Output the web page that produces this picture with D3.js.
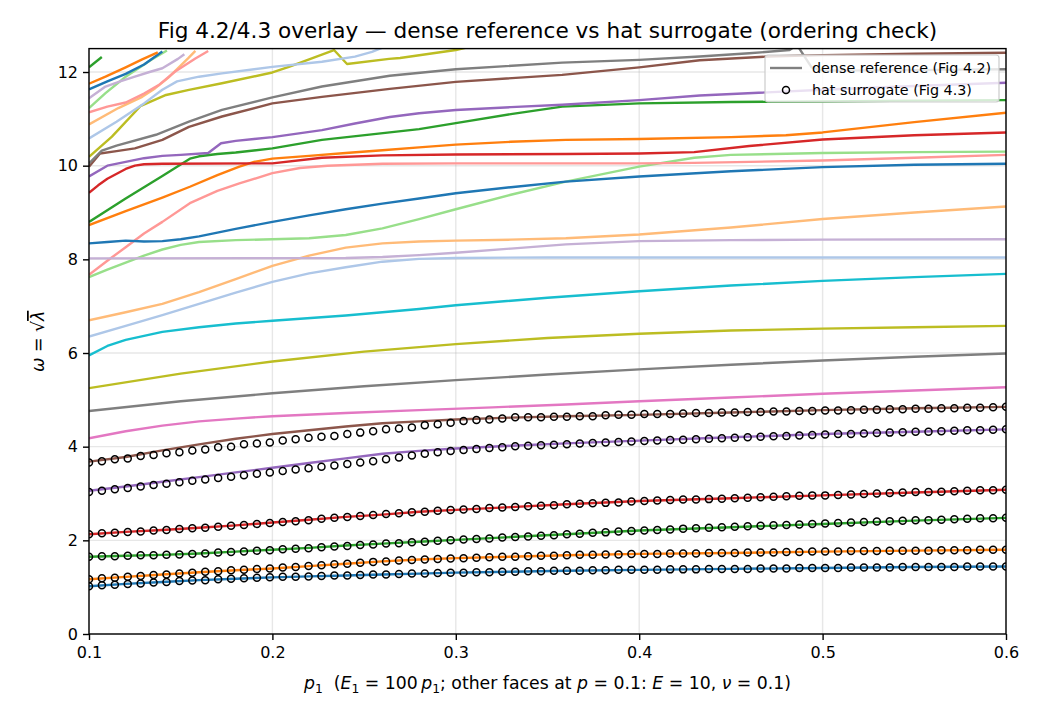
<!DOCTYPE html>
<html>
<head>
<meta charset="utf-8">
<script src="https://cdn.jsdelivr.net/npm/d3@7"></script>
<style>
  body { margin: 0; background: #fff; }
  text { font-family: "DejaVu Sans", sans-serif; fill: #000; }
</style>
</head>
<body>
<div id="chart"></div>
<script>
'use strict';

// ---- data ---------------------------------------------------------------

const xTicks = [0.1, 0.2, 0.3, 0.4, 0.5, 0.6];
const yTicks = [0, 2, 4, 6, 8, 10, 12];

// dense reference curves, [p1, omega] pairs, one array per mode
const mode01 = [[0.1,1.02],[0.12,1.07],[0.14,1.11],[0.16,1.15],[0.18,1.18],[0.2,1.21],[0.22,1.23],[0.24,1.25],[0.26,1.27],[0.28,1.29],[0.3,1.31],[0.33,1.33],[0.36,1.35],[0.4,1.37],[0.45,1.39],[0.5,1.41],[0.55,1.43],[0.6,1.44]];
const mode02 = [[0.1,1.17],[0.12,1.22],[0.14,1.27],[0.16,1.32],[0.18,1.36],[0.2,1.40],[0.22,1.45],[0.24,1.50],[0.26,1.55],[0.28,1.59],[0.3,1.62],[0.33,1.65],[0.36,1.68],[0.4,1.71],[0.45,1.73],[0.5,1.76],[0.55,1.78],[0.6,1.80]];
const mode03 = [[0.1,1.65],[0.12,1.67],[0.14,1.69],[0.16,1.72],[0.18,1.76],[0.2,1.80],[0.22,1.84],[0.24,1.89],[0.26,1.93],[0.28,1.97],[0.3,2.01],[0.33,2.07],[0.36,2.13],[0.4,2.21],[0.45,2.28],[0.5,2.35],[0.55,2.42],[0.6,2.48]];
const mode04 = [[0.1,2.13],[0.12,2.18],[0.14,2.22],[0.16,2.27],[0.18,2.32],[0.2,2.38],[0.22,2.44],[0.24,2.50],[0.26,2.55],[0.28,2.61],[0.3,2.65],[0.33,2.71],[0.36,2.77],[0.4,2.84],[0.45,2.90],[0.5,2.96],[0.55,3.02],[0.6,3.08]];
const mode05 = [[0.1,3.06],[0.12,3.15],[0.14,3.25],[0.16,3.35],[0.18,3.45],[0.2,3.55],[0.22,3.65],[0.24,3.75],[0.26,3.85],[0.28,3.91],[0.3,3.96],[0.33,4.02],[0.36,4.07],[0.4,4.13],[0.45,4.20],[0.5,4.27],[0.55,4.32],[0.6,4.37]];
const mode06 = [[0.1,3.68],[0.12,3.78],[0.14,3.92],[0.16,4.05],[0.18,4.17],[0.2,4.27],[0.22,4.35],[0.24,4.43],[0.26,4.50],[0.28,4.54],[0.3,4.58],[0.33,4.62],[0.36,4.65],[0.4,4.68],[0.45,4.73],[0.5,4.78],[0.55,4.82],[0.6,4.85]];
const mode07 = [[0.1,4.18],[0.12,4.33],[0.14,4.45],[0.16,4.54],[0.18,4.60],[0.2,4.65],[0.24,4.72],[0.28,4.78],[0.32,4.84],[0.36,4.90],[0.4,4.97],[0.45,5.05],[0.5,5.13],[0.55,5.20],[0.6,5.27]];
const mode08 = [[0.1,4.76],[0.15,4.97],[0.2,5.14],[0.25,5.29],[0.3,5.42],[0.35,5.54],[0.4,5.65],[0.45,5.75],[0.5,5.84],[0.55,5.92],[0.6,5.99]];
const mode09 = [[0.1,5.25],[0.15,5.56],[0.2,5.82],[0.25,6.03],[0.3,6.19],[0.35,6.32],[0.4,6.41],[0.45,6.48],[0.5,6.52],[0.55,6.55],[0.6,6.58]];
const mode10 = [[0.1,5.95],[0.11,6.15],[0.12,6.28],[0.14,6.45],[0.16,6.55],[0.18,6.63],[0.2,6.69],[0.24,6.80],[0.28,6.94],[0.3,7.02],[0.35,7.18],[0.4,7.32],[0.45,7.44],[0.5,7.54],[0.55,7.62],[0.6,7.69]];
const mode11 = [[0.1,6.35],[0.12,6.58],[0.14,6.81],[0.16,7.05],[0.18,7.29],[0.2,7.52],[0.22,7.70],[0.24,7.83],[0.26,7.95],[0.28,8.01],[0.3,8.03],[0.35,8.04],[0.6,8.04]];
const mode12 = [[0.1,6.70],[0.12,6.87],[0.14,7.05],[0.16,7.30],[0.18,7.58],[0.2,7.86],[0.22,8.08],[0.24,8.25],[0.26,8.34],[0.28,8.38],[0.3,8.40],[0.33,8.42],[0.36,8.45],[0.4,8.53],[0.45,8.68],[0.5,8.86],[0.55,9.00],[0.6,9.13]];
const mode13 = [[0.1,7.62],[0.11,7.78],[0.12,7.93],[0.13,8.08],[0.14,8.21],[0.15,8.31],[0.16,8.37],[0.18,8.41],[0.2,8.43],[0.22,8.45],[0.24,8.52],[0.26,8.66],[0.28,8.86],[0.3,9.07],[0.33,9.38],[0.36,9.66],[0.4,9.98],[0.43,10.17],[0.45,10.23],[0.5,10.27],[0.55,10.29],[0.6,10.30]];
const mode14 = [[0.1,7.67],[0.11,7.97],[0.12,8.26],[0.13,8.55],[0.14,8.80],[0.155,9.20],[0.17,9.46],[0.182,9.62],[0.2,9.84],[0.215,9.95],[0.23,10.00],[0.26,10.04],[0.3,10.05],[0.4,10.05],[0.43,10.06],[0.5,10.11],[0.55,10.17],[0.6,10.23]];
const mode15 = [[0.1,8.02],[0.24,8.03],[0.26,8.05],[0.28,8.09],[0.3,8.14],[0.33,8.23],[0.36,8.32],[0.4,8.39],[0.45,8.41],[0.5,8.42],[0.6,8.43]];
const mode16 = [[0.1,8.34],[0.11,8.37],[0.12,8.40],[0.13,8.38],[0.14,8.39],[0.15,8.43],[0.16,8.49],[0.17,8.57],[0.18,8.65],[0.2,8.80],[0.22,8.94],[0.24,9.07],[0.26,9.19],[0.28,9.30],[0.3,9.41],[0.33,9.54],[0.36,9.66],[0.4,9.77],[0.45,9.88],[0.5,9.97],[0.55,10.02],[0.6,10.04]];
const mode17 = [[0.1,8.73],[0.12,9.03],[0.14,9.32],[0.155,9.55],[0.17,9.80],[0.182,9.98],[0.19,10.08],[0.2,10.15],[0.22,10.21],[0.24,10.27],[0.26,10.33],[0.28,10.39],[0.3,10.45],[0.33,10.51],[0.36,10.55],[0.4,10.57],[0.45,10.61],[0.48,10.65],[0.5,10.71],[0.55,10.93],[0.6,11.13]];
const mode18 = [[0.1,8.80],[0.12,9.30],[0.14,9.78],[0.155,10.15],[0.16,10.20],[0.17,10.25],[0.18,10.28],[0.2,10.37],[0.227,10.55],[0.264,10.71],[0.28,10.78],[0.3,10.91],[0.33,11.10],[0.358,11.26],[0.4,11.33],[0.45,11.36],[0.5,11.37],[0.55,11.39],[0.6,11.40]];
const mode19 = [[0.1,9.42],[0.105,9.58],[0.11,9.72],[0.12,9.93],[0.125,10.00],[0.13,10.03],[0.14,10.04],[0.2,10.05],[0.227,10.17],[0.26,10.22],[0.3,10.24],[0.36,10.25],[0.4,10.26],[0.43,10.29],[0.46,10.42],[0.5,10.56],[0.55,10.65],[0.6,10.71]];
const mode20 = [[0.1,9.77],[0.11,10.00],[0.12,10.08],[0.13,10.16],[0.14,10.21],[0.15,10.23],[0.165,10.27],[0.172,10.48],[0.18,10.53],[0.19,10.57],[0.2,10.61],[0.227,10.76],[0.245,10.90],[0.264,11.04],[0.28,11.12],[0.3,11.19],[0.33,11.25],[0.358,11.30],[0.4,11.40],[0.433,11.50],[0.5,11.62],[0.55,11.70],[0.6,11.77]];
const mode21 = [[0.1,9.98],[0.106,10.26],[0.115,10.31],[0.125,10.37],[0.14,10.55],[0.1545,10.83],[0.1725,11.05],[0.2,11.33],[0.227,11.47],[0.264,11.64],[0.3,11.79],[0.358,11.94],[0.4,12.10],[0.433,12.25],[0.47,12.33],[0.5,12.36],[0.55,12.39],[0.6,12.41]];
const mode23 = [[0.1,10.05],[0.107,10.32],[0.115,10.43],[0.1365,10.66],[0.1545,10.94],[0.1725,11.19],[0.2,11.46],[0.227,11.69],[0.264,11.92],[0.3,12.06],[0.358,12.20],[0.4,12.26],[0.433,12.33],[0.46,12.40],[0.482,12.47],[0.486,12.58],[0.494,12.10],[0.5,12.03],[0.55,12.04],[0.6,12.06]];
const mode24 = [[0.1,10.19],[0.1125,10.62],[0.128,11.27],[0.142,11.51],[0.1545,11.62],[0.1725,11.76],[0.2,11.99],[0.209,12.11],[0.2336,12.47],[0.2407,12.17],[0.2636,12.28],[0.2696,12.30],[0.3,12.47],[0.31,12.56]];
const mode26 = [[0.1,10.58],[0.115,10.94],[0.13,11.33],[0.14,11.62],[0.148,11.80],[0.16,11.90],[0.1725,11.97],[0.2,12.11],[0.227,12.22],[0.245,12.33],[0.2543,12.43],[0.26,12.52]];
const mode27 = [[0.1,10.88],[0.116,11.23],[0.129,11.47],[0.136,11.65],[0.143,11.87],[0.154,12.29],[0.158,12.45]];
const mode28 = [[0.1,11.23],[0.109,11.55],[0.12,11.90],[0.134,12.26],[0.1425,12.46]];
const mode29 = [[0.1,11.14],[0.11,11.26],[0.12,11.35],[0.13,11.54],[0.138,11.72],[0.147,12.01],[0.158,12.29],[0.165,12.45]];
const mode30 = [[0.1,11.44],[0.109,11.69],[0.117,11.80],[0.125,11.90],[0.133,12.00],[0.14,12.08],[0.1485,12.28],[0.152,12.38]];
const mode31 = [[0.1,11.63],[0.11,11.80],[0.12,11.96],[0.13,12.16],[0.135,12.30],[0.14,12.44]];
const mode32 = [[0.1,11.75],[0.109,11.90],[0.12,12.10],[0.129,12.27],[0.1375,12.42]];
const mode33 = [[0.1,12.10],[0.107,12.32]];

// mode number of each dense curve (it picks the colour in the cycle)
const denseModeNumbers = [1,2,3,4,5,6,7,8,9,10,11,12,13,14,15,16,17,18,19,20,21,23,24,26,27,28,29,30,31,32,33];
const denseCurves = [mode01,mode02,mode03,mode04,mode05,mode06,mode07,mode08,mode09,mode10,
                     mode11,mode12,mode13,mode14,mode15,mode16,mode17,mode18,mode19,mode20,
                     mode21,mode23,mode24,mode26,mode27,mode28,mode29,mode30,mode31,mode32,mode33];

// hat surrogate: 72 evenly spaced p1 samples between 0.1 and 0.6
const hatP = d3.range(72).map(i => 0.1 + i * 0.5 / 71);
const hat1 = [1.02,1.04,1.05,1.07,1.08,1.10,1.11,1.13,1.14,1.15,1.17,1.18,1.19,1.20,1.21,1.22,1.22,1.23,1.24,1.25,1.25,1.26,1.27,1.27,1.28,1.29,1.29,1.30,1.31,1.31,1.32,1.32,1.33,1.33,1.34,1.34,1.35,1.35,1.35,1.36,1.36,1.37,1.37,1.37,1.37,1.38,1.38,1.38,1.39,1.39,1.39,1.39,1.40,1.40,1.40,1.41,1.41,1.41,1.41,1.42,1.42,1.42,1.42,1.43,1.43,1.43,1.43,1.43,1.44,1.44,1.44,1.44];
const hat2 = [1.17,1.19,1.20,1.22,1.24,1.26,1.27,1.29,1.31,1.33,1.34,1.36,1.37,1.39,1.40,1.42,1.43,1.45,1.47,1.49,1.50,1.52,1.54,1.55,1.57,1.58,1.59,1.60,1.61,1.62,1.63,1.64,1.65,1.65,1.66,1.67,1.67,1.68,1.69,1.69,1.70,1.70,1.71,1.71,1.71,1.72,1.72,1.72,1.73,1.73,1.73,1.74,1.74,1.74,1.75,1.75,1.76,1.76,1.76,1.77,1.77,1.77,1.78,1.78,1.78,1.78,1.79,1.79,1.79,1.80,1.80,1.80];
const hat3 = [1.65,1.66,1.66,1.67,1.68,1.68,1.69,1.70,1.71,1.72,1.74,1.75,1.76,1.78,1.79,1.81,1.82,1.83,1.85,1.87,1.88,1.90,1.91,1.93,1.94,1.96,1.97,1.99,2.00,2.02,2.03,2.04,2.06,2.07,2.08,2.10,2.11,2.13,2.14,2.16,2.17,2.19,2.20,2.21,2.22,2.23,2.25,2.26,2.27,2.28,2.29,2.30,2.31,2.32,2.33,2.34,2.35,2.36,2.37,2.38,2.39,2.40,2.41,2.42,2.43,2.43,2.44,2.45,2.46,2.47,2.47,2.48];
const hat4 = [2.13,2.15,2.16,2.18,2.19,2.21,2.22,2.24,2.26,2.27,2.29,2.31,2.33,2.35,2.37,2.39,2.41,2.43,2.46,2.48,2.50,2.52,2.54,2.56,2.58,2.60,2.61,2.63,2.65,2.66,2.67,2.69,2.70,2.71,2.73,2.74,2.75,2.77,2.78,2.79,2.80,2.81,2.83,2.84,2.85,2.86,2.87,2.87,2.88,2.89,2.90,2.91,2.92,2.93,2.94,2.95,2.96,2.96,2.97,2.98,2.99,3.00,3.01,3.02,3.03,3.03,3.04,3.05,3.06,3.07,3.07,3.08];
const hat5 = [3.03,3.06,3.09,3.12,3.15,3.18,3.21,3.24,3.27,3.30,3.33,3.36,3.39,3.42,3.45,3.48,3.51,3.54,3.57,3.60,3.63,3.66,3.69,3.73,3.77,3.81,3.85,3.88,3.91,3.93,3.95,3.97,3.99,4.01,4.02,4.03,4.04,4.05,4.07,4.08,4.09,4.10,4.11,4.12,4.13,4.14,4.15,4.16,4.17,4.18,4.19,4.20,4.21,4.22,4.23,4.24,4.25,4.26,4.27,4.27,4.28,4.29,4.30,4.31,4.32,4.32,4.33,4.34,4.35,4.35,4.36,4.37];
const hat6 = [3.66,3.69,3.73,3.75,3.80,3.82,3.86,3.88,3.92,3.94,3.99,4.00,4.05,4.07,4.09,4.13,4.16,4.19,4.21,4.23,4.27,4.30,4.33,4.37,4.39,4.41,4.46,4.48,4.51,4.55,4.57,4.58,4.60,4.63,4.63,4.63,4.64,4.64,4.65,4.65,4.67,4.68,4.68,4.70,4.70,4.70,4.71,4.72,4.72,4.73,4.73,4.74,4.74,4.75,4.75,4.76,4.76,4.77,4.77,4.78,4.79,4.79,4.80,4.80,4.81,4.81,4.82,4.82,4.83,4.83,4.84,4.85];
const hatSeries = [hat1, hat2, hat3, hat4, hat5, hat6];

const legendLabels = ['dense reference (Fig 4.2)', 'hat surrogate (Fig 4.3)'];

// ---- styles ---------------------------------------------------------------

// 15-colour cycle: tab10 followed by the five light tab20 tints
const palette = ['#1f77b4','#ff7f0e','#2ca02c','#d62728','#9467bd','#8c564b','#e377c2','#7f7f7f','#bcbd22','#17becf',
                 '#aec7e8','#ffbb78','#98df8a','#ff9896','#c5b0d5'];

const width = 1040, height = 715;
const plot = { left: 89, right: 1006, top: 48.6, bottom: 634 };

const svg = d3.select('#chart').append('svg')
    .attr('width', width)
    .attr('height', height);

const x = d3.scaleLinear().domain([0.1, 0.6]).range([plot.left, plot.right]);
const y = d3.scaleLinear().domain([0, 12.5]).range([plot.bottom, plot.top]);

svg.append('clipPath').attr('id', 'plot-clip')
    .append('rect')
    .attr('x', plot.left).attr('y', plot.top)
    .attr('width', plot.right - plot.left).attr('height', plot.bottom - plot.top);

// grid
const grid = svg.append('g').attr('class', 'grid');
grid.selectAll('.gx').data(xTicks).enter().append('line')
    .attr('x1', d => x(d)).attr('x2', d => x(d))
    .attr('y1', plot.top).attr('y2', plot.bottom)
    .attr('stroke', '#b0b0b0').attr('stroke-opacity', 0.3).attr('stroke-width', 1.4);
grid.selectAll('.gy').data(yTicks).enter().append('line')
    .attr('x1', plot.left).attr('x2', plot.right)
    .attr('y1', d => y(d)).attr('y2', d => y(d))
    .attr('stroke', '#b0b0b0').attr('stroke-opacity', 0.3).attr('stroke-width', 1.4);

// dense reference curves
const line = d3.line().x(d => x(d[0])).y(d => y(d[1]));
const curves = svg.append('g').attr('clip-path', 'url(#plot-clip)');
curves.selectAll('path.dense')
    .data(denseCurves)
    .enter().append('path')
    .attr('class', 'dense')
    .attr('d', line)
    .attr('fill', 'none')
    .attr('stroke', (d, i) => palette[(denseModeNumbers[i] - 1) % palette.length])
    .attr('stroke-width', 2.4)
    .attr('stroke-linejoin', 'round')
    .attr('stroke-linecap', 'butt');

// hat surrogate markers
const markers = svg.append('g').attr('clip-path', 'url(#plot-clip)');
hatSeries.forEach(function (vals) {
    markers.selectAll(null)
        .data(vals.map((v, i) => [hatP[i], v]))
        .enter().append('circle')
        .attr('cx', d => x(d[0]))
        .attr('cy', d => y(d[1]))
        .attr('r', 3.5)
        .attr('fill', 'none')
        .attr('stroke', '#000')
        .attr('stroke-width', 1.5);
});

// axes
const xAxis = d3.axisBottom(x).tickValues(xTicks).tickFormat(d3.format('.1f'))
    .tickSize(6).tickSizeOuter(0).tickPadding(7);
const yAxis = d3.axisLeft(y).tickValues(yTicks).tickFormat(d3.format('d'))
    .tickSize(6).tickSizeOuter(0).tickPadding(5);

const gx = svg.append('g').attr('transform', 'translate(0,' + plot.bottom + ')').call(xAxis);
const gy = svg.append('g').attr('transform', 'translate(' + plot.left + ',0)').call(yAxis);
[gx, gy].forEach(function (g) {
    g.select('.domain').remove();
    g.selectAll('.tick line').attr('stroke', '#000').attr('stroke-width', 1.4);
    g.selectAll('.tick text').attr('font-size', 16).attr('font-family', '"DejaVu Sans", sans-serif').attr('fill', '#000');
});

// frame
svg.append('rect')
    .attr('x', plot.left).attr('y', plot.top)
    .attr('width', plot.right - plot.left).attr('height', plot.bottom - plot.top)
    .attr('fill', 'none').attr('stroke', '#000').attr('stroke-width', 1.4);

// title
svg.append('text')
    .attr('x', (plot.left + plot.right) / 2).attr('y', 38)
    .attr('text-anchor', 'middle').attr('font-size', 21.6)
    .text('Fig 4.2/4.3 overlay \u2014 dense reference vs hat surrogate (ordering check)');

// x label with math parts
const xl = svg.append('text')
    .attr('x', (plot.left + plot.right) / 2).attr('y', 689)
    .attr('text-anchor', 'middle').attr('font-size', 17.3);
const xParts = [
    ['p', 'i'], ['1', 's'], ['  (', ''], ['E', 'i'], ['1', 's'], [' = 100\u2009', ''], ['p', 'i'], ['1', 's'],
    ['; other faces at ', ''], ['p', 'i'], [' = 0.1: ', ''], ['E', 'i'], [' = 10, ', ''], ['\u03bd', 'i'], [' = 0.1)', '']
];
let shifted = false;
xParts.forEach(function (p) {
    const t = xl.append('tspan').text(p[0]).attr('xml:space', 'preserve');
    if (p[1] === 'i') t.attr('font-style', 'italic');
    if (p[1] === 's') { t.attr('font-size', 12.3).attr('dy', 3.5); shifted = true; }
    else if (shifted) { t.attr('dy', -3.5); shifted = false; }
});

// y label: omega = sqrt(lambda)
const yl = svg.append('text')
    .attr('transform', 'translate(44,' + ((plot.top + plot.bottom) / 2) + ') rotate(-90)')
    .attr('text-anchor', 'middle').attr('font-size', 17.3);
yl.append('tspan').attr('font-style', 'italic').text('\u03c9');
yl.append('tspan').attr('xml:space', 'preserve').text(' = \u221a');
yl.append('tspan').attr('font-style', 'italic').attr('text-decoration', 'overline').text('\u03bb');

// legend
const lg = svg.append('g').attr('transform', 'translate(765,55)');
lg.append('rect')
    .attr('width', 234).attr('height', 47).attr('rx', 3)
    .attr('fill', '#fff').attr('fill-opacity', 0.8)
    .attr('stroke', '#cccccc').attr('stroke-width', 1.2);
lg.append('line')
    .attr('x1', 5).attr('x2', 37).attr('y1', 13).attr('y2', 13)
    .attr('stroke', '#808080').attr('stroke-width', 2.4);
lg.append('circle')
    .attr('cx', 21).attr('cy', 35).attr('r', 3.5)
    .attr('fill', 'none').attr('stroke', '#000').attr('stroke-width', 1.5);
lg.selectAll('text.lab').data(legendLabels).enter().append('text')
    .attr('class', 'lab')
    .attr('x', 47).attr('y', (d, i) => 18 + i * 22)
    .attr('font-size', 14.3)
    .text(d => d);
</script>
</body>
</html>
